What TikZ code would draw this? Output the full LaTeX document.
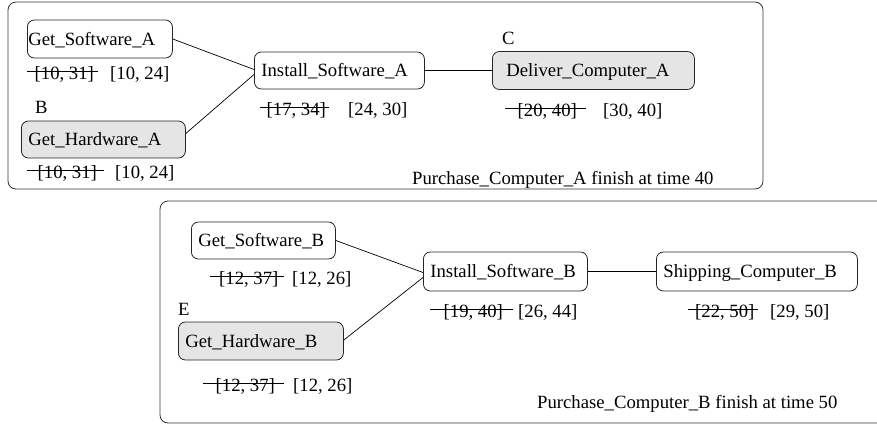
\documentclass[tikz,border=0pt]{standalone}
\usepackage{fontspec}
\setmainfont{Liberation Serif}
% strike a label through: node name, left overhang, right overhang (pt)
\newcommand\strikelbl[3]{\draw[strikeline] ([shift={(-#2pt,7.5pt)}]#1.base west) -- ([shift={(#3pt,7.5pt)}]#1.base east);}
\begin{document}
\begin{tikzpicture}[x=1pt,y=-1pt,
  every node/.style={font=\fontsize{18.7}{22}\selectfont},
  task/.style={draw=black!85, line width=0.8pt, rounded corners=7pt, align=left,
               inner ysep=0pt, text height=12.4pt, text depth=0pt, anchor=west},
  hot/.style={task, fill=gray!20},
  lbl/.style={inner sep=0pt, anchor=base west},
  link/.style={draw=black, line width=0.7pt},
  strikeline/.style={line width=0.7pt},
  frame/.style={draw=black!80, line width=0.8pt, rounded corners=8pt}]
\useasboundingbox (0,0) rectangle (877,426);

% ---------- Purchase_Computer_A ----------
\draw[frame] (8,2) rectangle (763,189);

\node[task, text width=143pt, inner xsep=1pt, minimum height=38pt] (gsA) at (27,39) {Get\_Software\_A};
\node[hot,  text width=150pt, inner xsep=7pt, minimum height=37pt] (ghA) at (21,139.5) {Get\_Hardware\_A};
\node[task, text width=156pt, inner xsep=7pt, minimum height=37pt] (isA) at (254,70.5) {Install\_Software\_A};
\node[hot,  text width=174pt, inner xsep=14pt, minimum height=38pt] (dcA) at (492,70.5) {Deliver\_Computer\_A};

\node[lbl] (tagB) at (35,113) {B};
\node[lbl] (tagC) at (502,44) {C};

\node[lbl] (sgsA) at (34.5,79) {[10, 31]};
\node[lbl] (pgsA) at (110,79) {[10, 24]};
\node[lbl] (sghA) at (37.5,178) {[10, 31]};
\node[lbl] (pghA) at (115,178) {[10, 24]};
\node[lbl] (sisA) at (266.5,115) {[17, 34]};
\node[lbl] (pisA) at (348,115) {[24, 30]};
\node[lbl] (sdcA) at (517.5,116) {[20, 40]};
\node[lbl] (pdcA) at (603,116) {[30, 40]};
\strikelbl{sgsA}{7.5}{3.5}
\strikelbl{sghA}{10.5}{6.5}
\strikelbl{sisA}{6.5}{2.5}
\strikelbl{sdcA}{12.5}{8.5}

\node[lbl] (capA) at (412,184) {Purchase\_Computer\_A finish at time 40};

\draw[link] (gsA.east) -- ([yshift=1pt]isA.west);
\draw[link] ([yshift=6pt]ghA.east) -- ([yshift=-4pt]isA.west);
\draw[link] (isA.east) -- (dcA.west);

% ---------- Purchase_Computer_B ----------
\draw[frame] (880,201) -- (160,201) -- (160,423) -- (880,423);

\node[task, text width=130pt, inner xsep=7pt, minimum height=37pt] (gsB) at (191,240.5) {Get\_Software\_B};
\node[hot,  text width=151pt, inner xsep=7pt, minimum height=38pt] (ghB) at (178,341) {Get\_Hardware\_B};
\node[task, text width=150pt, inner xsep=7pt, minimum height=39pt] (isB) at (423,271.5) {Install\_Software\_B};
\node[task, text width=187pt, inner xsep=7pt, minimum height=39pt] (scB) at (656,271.5) {Shipping\_Computer\_B};

\node[lbl] (tagE) at (178,315) {E};

\node[lbl] (sgsB) at (219,284) {[12, 37]};
\node[lbl] (pgsB) at (292,284) {[12, 26]};
\node[lbl] (sghB) at (215.5,391) {[12, 37]};
\node[lbl] (pghB) at (293,391) {[12, 26]};
\node[lbl] (sisB) at (443.5,317) {[19, 40]};
\node[lbl] (pisB) at (518,317) {[26, 44]};
\node[lbl] (sscB) at (695,317) {[22, 50]};
\node[lbl] (pscB) at (770,317) {[29, 50]};
\strikelbl{sgsB}{9}{5}
\strikelbl{sghB}{12.5}{8.5}
\strikelbl{sisB}{13.5}{9.5}
\strikelbl{sscB}{7}{3}

\node[lbl] (capB) at (537,408) {Purchase\_Computer\_B finish at time 50};

\draw[link] (gsB.east) -- ([yshift=-1pt]isB.west);
\draw[link] ([yshift=1pt]ghB.east) -- ([yshift=-6pt]isB.west);
\draw[link] (isB.east) -- (scB.west);
\end{tikzpicture}
\end{document}
